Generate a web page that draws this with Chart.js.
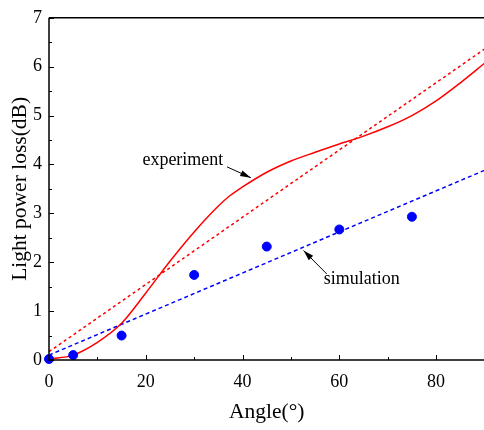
<!DOCTYPE html>
<html lang="en">
<head>
  <meta charset="UTF-8" />
  <title>Light power loss vs angle</title>
  <script src="https://cdn.jsdelivr.net/npm/chart.js"></script>
  <style>
    html, body { margin: 0; padding: 0; background: #fff; overflow: hidden; }
    #wrap { width: 490px; height: 430px; }
  </style>
</head>
<body>
  <div id="wrap"><canvas id="chart" width="490" height="430"></canvas></div>

  <script>
    // data
    const expAngles = [0, 5, 10, 15, 20, 25, 30, 35, 37.5, 40, 45, 50, 55, 60, 65, 70, 75, 80, 85, 90];
    const expLoss   = [0.02, 0.1, 0.36, 0.75, 1.37, 2.02, 2.62, 3.15, 3.37, 3.54, 3.84, 4.07, 4.25, 4.42, 4.58, 4.77, 5.0, 5.3, 5.67, 6.07];

    const simAngles = [0, 5, 15, 30, 45, 60, 75];
    const simLoss   = [0.02, 0.1, 0.5, 1.74, 2.32, 2.67, 2.93];

    const fitAngles = [0, 90];
    const expFit    = [0.17, 6.36];
    const simFit    = [0.1, 3.88];

    const xTicks = [0, 20, 40, 60, 80];
    const yTicks = [0, 1, 2, 3, 4, 5, 6, 7];

    const pts = (xs, ys) => xs.map((x, i) => ({ x, y: ys[i] }));
    const serif = "'Liberation Serif', 'DejaVu Serif', serif";

    // inward ticks + frame + labels with arrows
    const decor = {
      id: 'decor',
      afterDraw(chart) {
        const { ctx, chartArea: a, scales: { x, y } } = chart;
        ctx.save();
        ctx.strokeStyle = '#000';
        ctx.lineWidth = 1.5;
        ctx.beginPath();
        ctx.moveTo(a.left, a.top); ctx.lineTo(a.left, a.bottom); ctx.lineTo(a.right + 5, a.bottom);
        ctx.moveTo(a.left, a.top); ctx.lineTo(a.right + 5, a.top);
        ctx.stroke();

        ctx.lineWidth = 1;
        ctx.beginPath();
        for (let v = 0; v <= 90; v += 10) {
          const px = Math.round(x.getPixelForValue(v)) + 0.5;
          const len = v % 20 === 0 ? 5 : 3;
          ctx.moveTo(px, a.bottom); ctx.lineTo(px, a.bottom - len);
        }
        for (let v = 0; v <= 7; v += 0.5) {
          const py = Math.round(y.getPixelForValue(v)) + 0.5;
          const len = v % 1 === 0 ? 5 : 3;
          ctx.moveTo(a.left, py); ctx.lineTo(a.left + len, py);
        }
        ctx.stroke();

        ctx.fillStyle = '#000';
        ctx.font = '18px ' + serif;
        ctx.textBaseline = 'middle';
        ctx.textAlign = 'left';
        ctx.fillText('experiment', x.getPixelForValue(19.3), y.getPixelForValue(4.08));
        ctx.fillText('simulation', x.getPixelForValue(56.8), y.getPixelForValue(1.66));

        const arrow = (x0, y0, x1, y1) => {
          const X0 = x.getPixelForValue(x0), Y0 = y.getPixelForValue(y0);
          const X1 = x.getPixelForValue(x1), Y1 = y.getPixelForValue(y1);
          const ang = Math.atan2(Y1 - Y0, X1 - X0);
          ctx.lineWidth = 1;
          ctx.beginPath(); ctx.moveTo(X0, Y0); ctx.lineTo(X1, Y1); ctx.stroke();
          ctx.beginPath();
          ctx.moveTo(X1, Y1);
          ctx.lineTo(X1 - 11 * Math.cos(ang - 0.28), Y1 - 11 * Math.sin(ang - 0.28));
          ctx.lineTo(X1 - 11 * Math.cos(ang + 0.28), Y1 - 11 * Math.sin(ang + 0.28));
          ctx.closePath(); ctx.fill();
        };
        arrow(36.8, 3.95, 41.7, 3.73);
        arrow(57.4, 1.76, 52.6, 2.24);
        ctx.restore();
      }
    };

    new Chart(document.getElementById('chart'), {
      type: 'scatter',
      data: {
        datasets: [
          { data: pts(fitAngles, expFit), showLine: true, borderColor: '#ff0000', borderWidth: 1.5,
            borderDash: [3, 3], pointRadius: 0, order: 3 },
          { data: pts(fitAngles, simFit), showLine: true, borderColor: '#0000ff', borderWidth: 1.5,
            borderDash: [4, 3], pointRadius: 0, order: 3 },
          { data: pts(expAngles, expLoss), showLine: true, borderColor: '#ff0000', borderWidth: 1.5,
            cubicInterpolationMode: 'monotone', pointRadius: 0, order: 2 },
          { data: pts(simAngles, simLoss), showLine: false, backgroundColor: '#0000ff', borderColor: '#0000ff',
            pointRadius: 4.5, order: 1 }
        ]
      },
      options: {
        responsive: false,
        animation: false,
        clip: false,
        layout: { padding: { top: 11, right: 3, left: 0, bottom: 0 } },
        plugins: { legend: { display: false }, tooltip: { enabled: false } },
        scales: {
          x: {
            type: 'linear', min: 0, max: 90,
            afterBuildTicks: s => { s.ticks = xTicks.map(v => ({ value: v })); },
            afterFit: s => { s.height = 70; },
            grid: { display: false, drawTicks: false },
            border: { display: false },
            ticks: { color: '#000', padding: 11, font: { family: serif, size: 18 } },
            title: { display: true, text: 'Angle(°)', color: '#000', padding: { top: 0, bottom: 5 },
                     font: { family: serif, size: 21.5 } }
          },
          y: {
            type: 'linear', min: 0, max: 7,
            afterBuildTicks: s => { s.ticks = yTicks.map(v => ({ value: v })); },
            afterFit: s => { s.width = 49; },
            grid: { display: false, drawTicks: false },
            border: { display: false },
            ticks: { color: '#000', padding: 7, font: { family: serif, size: 18 } },
            title: { display: true, text: 'Light power loss(dB)', color: '#000', padding: { top: 7, bottom: 0 },
                     font: { family: serif, size: 21.5 } }
          }
        }
      },
      plugins: [decor]
    });
  </script>
</body>
</html>
